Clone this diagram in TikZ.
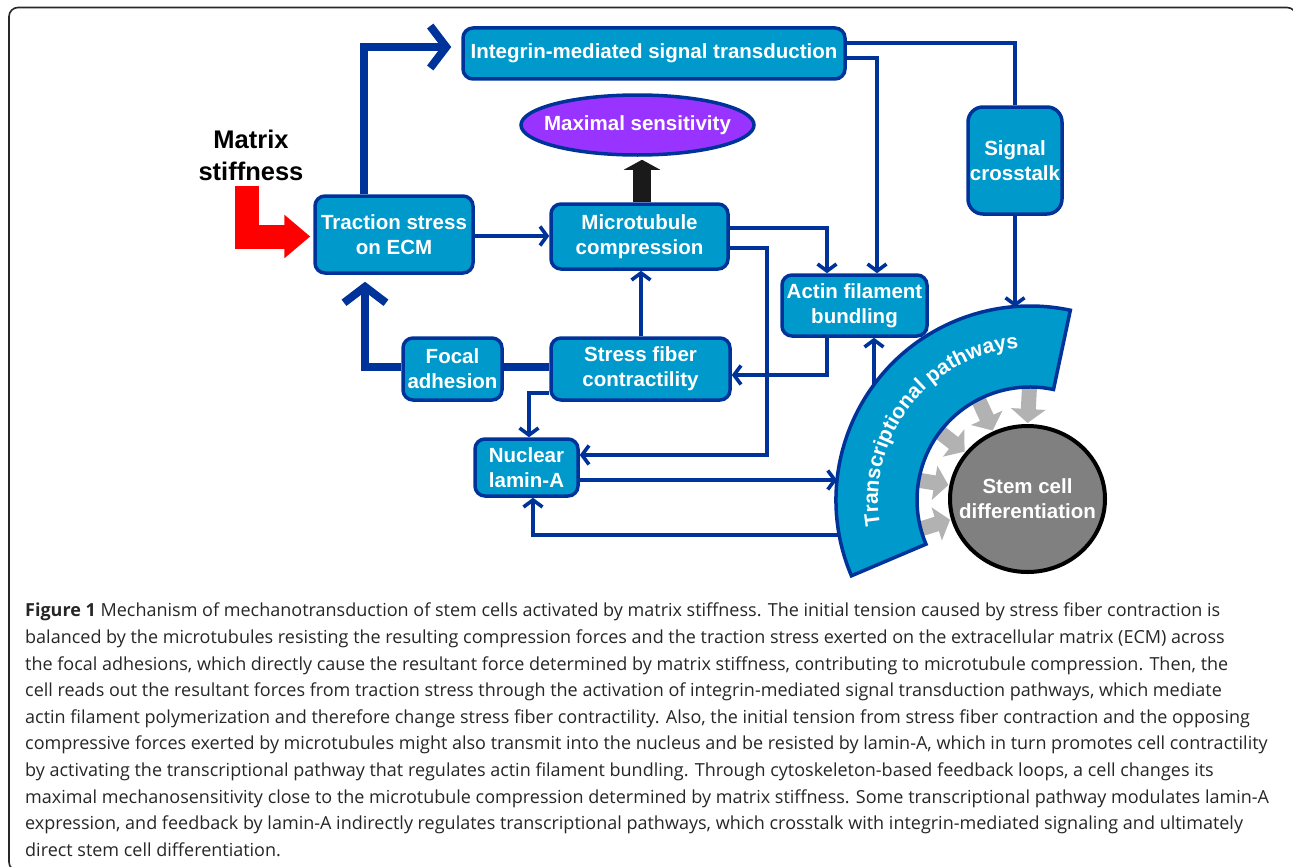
\documentclass[tikz,border=0pt]{standalone}
\usepackage{fontspec}
\setmainfont{Liberation Sans}
\newfontfamily\capfont{Open Sans}
\usepackage{tikz}
\usetikzlibrary{arrows.meta,shapes.geometric,decorations.text}

\definecolor{boxfill}{RGB}{0,153,204}
\definecolor{boxline}{RGB}{0,51,153}
\definecolor{sensfill}{RGB}{153,51,255}
\definecolor{stemfill}{RGB}{128,128,128}
\definecolor{arrowgray}{RGB}{178,178,178}
\definecolor{framegray}{RGB}{40,40,40}
\definecolor{blockblack}{RGB}{26,26,26}

\newcommand\diagfont{\bfseries\fontsize{20.5}{25}\selectfont}

\tikzset{
  box/.style={draw=boxline, line width=3.5pt, fill=boxfill, rounded corners=10pt,
    text=white, font=\diagfont, align=center, inner sep=1pt},
  sensnode/.style={ellipse, draw=boxline, line width=3.5pt, fill=sensfill,
    text=white, font=\diagfont, inner sep=0pt},
  stemnode/.style={ellipse, draw=black, line width=4pt, fill=stemfill,
    text=white, font=\diagfont, align=center, inner sep=0pt},
  link/.style={draw=boxline, line width=3.6pt, -{Straight Barb[length=7pt,width=19pt]}},
  plainlink/.style={draw=boxline, line width=3.6pt},
  thicklink/.style={draw=boxline, line width=8pt, -{Straight Barb[length=16pt,width=42pt]}},
  thickline/.style={draw=boxline, line width=8pt},
  blockarrow/.style={draw=blockblack, line width=18pt, -{Triangle[width=36pt,length=10pt]}},
  stiffarrow/.style={draw=red, line width=24pt, -{Triangle[width=42pt,length=26pt]}},
  pathwayarrow/.style={draw=arrowgray, line width=15pt, -{Triangle[width=34pt,length=14pt]}},
  pathwayband/.style={draw=boxline, line width=3.5pt, fill=boxfill},
  frame/.style={draw=framegray, line width=1.6pt, rounded corners=9pt},
  caption/.style={font=\capfont\fontsize{18}{26.6}\selectfont, align=left,
    inner sep=0pt, text=black!85}
}

\begin{document}
\begin{tikzpicture}[x=1pt,y=-1pt]
\useasboundingbox (0,0) rectangle (1293,867);
\draw[frame] (9,7.5) rectangle (1296,871);

% boxes
\node[box, minimum width=382pt, minimum height=51pt] (integrin) at (654,53.5) {Integrin-mediated signal transduction};
\node[sensnode, minimum width=233pt, minimum height=60pt] (sens) at (637.5,125) {\makebox[0pt]{Maximal sensitivity}};
\node[font=\bfseries\fontsize{25.5}{32}\selectfont, align=center, inner xsep=0pt, inner ysep=5pt] (matrixlbl) at (251,155) {Matrix\\stiffness};
\node[box, minimum width=158pt, minimum height=77pt] (traction) at (394,234.5) {Traction stress\\on ECM};
\node[box, minimum width=177pt, minimum height=65pt] (micro) at (639.5,236.5) {Microtubule\\compression};
\node[box, minimum width=99pt, minimum height=62pt] (focal) at (452.5,369) {Focal\\adhesion};
\node[box, minimum width=179pt, minimum height=62pt] (stress) at (640.5,369) {Stress fiber\\contractility};
\node[box, minimum width=103pt, minimum height=57pt] (lamin) at (526.5,467.5) {Nuclear\\lamin-A};
\node[box, minimum width=145pt, minimum height=61pt] (actin) at (854.5,305.5) {Actin filament\\bundling};
\node[box, rounded corners=15pt, minimum width=94pt, minimum height=107pt] (signal) at (1015,160.5) {Signal\\crosstalk};
\node[stemnode, minimum width=155pt, minimum height=146pt] (stem) at (1027.5,499) {\makebox[0pt]{Stem cell}\\\makebox[0pt]{differentiation}};

% points on the transcriptional band
\coordinate (tpc) at (1030,500);
\coordinate (tps) at (1015,307);
\coordinate (tpa) at (874,400);
\coordinate (tpl) at (837,480);
\coordinate (tpm) at (845,535);

% connectors
\draw[stiffarrow, shorten >=3pt] (matrixlbl.south -| 246.5,0) |- (traction.west |- 0,236.5);
\draw[thicklink, shorten >=10pt] (traction.north -| 364,0) |- (integrin.west |- 0,47);
\draw[link] (traction.east |- 0,236) -- (micro.west |- 0,236);
\draw[blockarrow, shorten >=3pt] (micro.north -| 642,0) -- (sens.south -| 642,0);
\draw[link] (micro.east |- 0,228) -| (actin.north -| 827,0);
\draw[link] (micro.east |- 0,248) -| (767,455) -- (lamin.east |- 0,455);
\draw[plainlink] (integrin.east |- 0,43) -| (signal.north);
\draw[link] (integrin.east |- 0,58) -| (actin.north -| 877,0);
\draw[link] (signal.south) -- (tps);
\draw[link] (actin.south -| 827,0) |- (stress.east |- 0,375);
\draw[link] (tpa) -- (actin.south -| tpa);
\draw[link] (stress.north -| 641,0) -- (micro.south -| 641,0);
\draw[thickline] (stress.west |- 0,367) -- (focal.east |- 0,367);
\draw[thicklink, shorten >=7pt] (focal.west |- 0,367) -| (traction.south -| 365,0);
\draw[link] (stress.west |- 0,393) -| (lamin.north -| 529,0);
\draw[link] (lamin.east |- 0,480) -- (tpl);
\draw[link] (tpm) -| (lamin.south -| 533,0);

% grey arrows into the stem cell
\foreach \a in {90,117,143,170,195}
  \draw[pathwayarrow, shorten >=1pt] ([shift={(\a:122pt)}]tpc) -- (stem.\a);

% transcriptional pathways band
\draw[pathwayband] ([shift={(203:194pt)}]tpc) arc[start angle=203, end angle=78, radius=194pt]
  -- ([shift={(78:113pt)}]tpc) arc[start angle=78, end angle=203, radius=113pt] -- cycle;
\path[decorate, decoration={text along path, text align=center, text color=white,
    text={|\diagfont\fontsize{21}{21}\selectfont|Transcriptional pathways}}]
  ([shift={(212:152pt)}]tpc) arc[start angle=212, end angle=72, radius=152pt];

% caption
\node[caption, anchor=north west] (caption) at (25,603) {\textbf{Figure 1} Mechanism of mechanotransduction of stem cells activated by matrix stiffness. The initial tension caused by stress fiber contraction is\\
balanced by the microtubules resisting the resulting compression forces and the traction stress exerted on the extracellular matrix (ECM) across\\
the focal adhesions, which directly cause the resultant force determined by matrix stiffness, contributing to microtubule compression. Then, the\\
cell reads out the resultant forces from traction stress through the activation of integrin-mediated signal transduction pathways, which mediate\\
actin filament polymerization and therefore change stress fiber contractility. Also, the initial tension from stress fiber contraction and the opposing\\
compressive forces exerted by microtubules might also transmit into the nucleus and be resisted by lamin-A, which in turn promotes cell contractility\\
by activating the transcriptional pathway that regulates actin filament bundling. Through cytoskeleton-based feedback loops, a cell changes its\\
maximal mechanosensitivity close to the microtubule compression determined by matrix stiffness. Some transcriptional pathway modulates lamin-A\\
expression, and feedback by lamin-A indirectly regulates transcriptional pathways, which crosstalk with integrin-mediated signaling and ultimately\\
direct stem cell differentiation.};
\end{tikzpicture}
\end{document}
